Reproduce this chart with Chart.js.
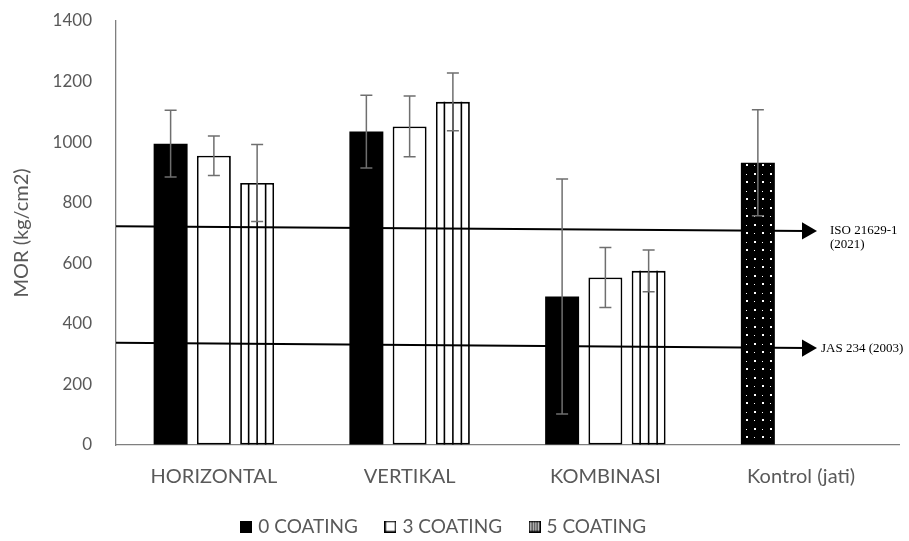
<!DOCTYPE html>
<html>
<head>
<meta charset="utf-8">
<title>MOR</title>
<script src="https://cdn.jsdelivr.net/npm/chart.js@4.4.0/dist/chart.umd.min.js"></script>
<style>
    html, body { margin: 0; padding: 0; background: #fff; }
    #wrap { width: 909px; height: 541px; }
</style>
</head>
<body>
<div id="wrap"><canvas id="mor" width="909" height="541"></canvas></div>
<script>
// Kategori dan nilai MOR (kg/cm2)
const categories = ['HORIZONTAL', 'VERTIKAL', 'KOMBINASI', 'Kontrol (jati)'];
const seriesNames = ['0 COATING', '3 COATING', '5 COATING'];

const coating0 = [995, 1035, 490, 932];
const coating3 = [955, 1052, 553, null];
const coating5 = [865, 1133, 575, null];

// Simpangan (error bar +/-)
const err0 = [110, 120, 388, 175];
const err3 = [65, 100, 99, null];
const err5 = [127, 95, 69, null];

const yTicks = [0, 200, 400, 600, 800, 1000, 1200, 1400];

// Garis standar: nilai di awal dan di ujung panah
const isoLimit = [722, 707];
const jasLimit = [338, 320];
const isoLabel = ['ISO 21629-1', '(2021)'];
const jasLabel = ['JAS 234 (2003)'];

const TEXT = '#595959';
const ERR = '#6f6f6f';
const FONT = 'Lato, "Open Sans", sans-serif';

const canvas = document.getElementById('mor');
const ctx = canvas.getContext('2d');

// Pola titik putih untuk batang kontrol
function makeDotPattern() {
    const c = document.createElement('canvas');
    c.width = 16;
    c.height = 17;
    const g = c.getContext('2d');
    g.fillStyle = '#000';
    g.fillRect(0, 0, 16, 17);
    g.fillStyle = '#fff';
    g.fillRect(2, 3, 2, 2);
    g.fillRect(10, 4, 1, 1);
    g.fillRect(10, 11, 2, 2);
    g.fillRect(2, 12, 1, 1);
    return ctx.createPattern(c, 'repeat');
}

// Kotak kecil untuk legenda
function makeSwatch(kind) {
    const c = document.createElement('canvas');
    c.width = 12;
    c.height = 12;
    const g = c.getContext('2d');
    if (kind === 0) {
        g.fillStyle = '#000';
        g.fillRect(0, 0, 12, 12);
    } else {
        g.fillStyle = '#fff';
        g.fillRect(0, 0, 12, 12);
        g.strokeStyle = '#000';
        g.lineWidth = 1.5;
        g.strokeRect(0.75, 0.75, 10.5, 10.5);
        if (kind === 2) {
            g.lineWidth = 1.2;
            [3.5, 6, 8.5].forEach(x => {
                g.beginPath();
                g.moveTo(x, 0);
                g.lineTo(x, 12);
                g.stroke();
            });
        }
    }
    return c;
}
const swatches = [makeSwatch(0), makeSwatch(1), makeSwatch(2)];

const errors = [err0, err3, err5];

// Garis vertikal di dalam batang 5 COATING
const stripePlugin = {
    id: 'stripes',
    afterDatasetDraw(chart, args) {
        if (args.index !== 2) return;
        const c = chart.ctx;
        c.save();
        c.strokeStyle = '#000';
        c.lineWidth = 1.6;
        args.meta.data.forEach(bar => {
            if (bar.skip) return;
            const p = bar.getProps(['x', 'y', 'base', 'width'], true);
            const left = p.x - p.width / 2;
            for (let k = 1; k < 4; k++) {
                const x = left + p.width * k / 4;
                c.beginPath();
                c.moveTo(x, p.y);
                c.lineTo(x, p.base);
                c.stroke();
            }
        });
        c.restore();
    }
};

// Error bar dan label garis standar
const overlayPlugin = {
    id: 'overlay',
    afterLayout(chart) {
        // legenda di gambar asli sedikit bergeser ke kiri
        chart.legend.left -= 5;
        chart.legend.right -= 5;
    },
    afterDatasetsDraw(chart) {
        const c = chart.ctx;
        const yScale = chart.scales.y;
        c.save();
        c.strokeStyle = ERR;
        c.lineWidth = 1.5;
        for (let i = 0; i < 3; i++) {
            const meta = chart.getDatasetMeta(i);
            meta.data.forEach((bar, j) => {
                const v = chart.data.datasets[i].data[j];
                const e = errors[i][j];
                if (v == null || e == null) return;
                const x = bar.x;
                const yTop = yScale.getPixelForValue(v + e);
                const yBot = yScale.getPixelForValue(v - e);
                c.beginPath();
                c.moveTo(x, yTop);
                c.lineTo(x, yBot);
                c.moveTo(x - 6, yTop);
                c.lineTo(x + 6, yTop);
                c.moveTo(x - 6, yBot);
                c.lineTo(x + 6, yBot);
                c.stroke();
            });
        }
        c.restore();

        c.save();
        c.fillStyle = '#000';
        c.font = '13px "Liberation Serif", "Times New Roman", serif';
        c.textAlign = 'left';
        c.textBaseline = 'middle';
        chart.data.datasets.forEach((ds, i) => {
            if (!ds.refLabel) return;
            const pts = chart.getDatasetMeta(i).data;
            const end = pts[pts.length - 1];
            ds.refLabel.forEach((line, k) => {
                c.fillText(line, end.x + ds.labelGap, end.y + k * 14);
            });
        });
        c.restore();
    }
};

// Garis standar pada sumbu kategori (indeks pecahan, -0.5 = tepi kiri plot)
const refLineX = [-0.5, 3.03];
function refLine(values, label, gap) {
    return {
        type: 'line',
        label: label[0],
        parsing: false,
        data: [{ x: refLineX[0], y: values[0] }, { x: refLineX[1], y: values[1] }],
        xAxisID: 'x',
        yAxisID: 'y',
        borderColor: '#000',
        borderWidth: 2,
        pointRadius: [0, 10],
        pointStyle: 'triangle',
        rotation: 90,
        pointBackgroundColor: '#000',
        pointBorderColor: '#000',
        pointBorderWidth: 0,
        fill: false,
        order: 0,
        refLabel: label,
        labelGap: gap
    };
}

const barCommon = {
    categoryPercentage: 0.663,
    barPercentage: 0.785,
    borderSkipped: false,
    order: 1,
    xAxisID: 'x',
    yAxisID: 'y'
};

new Chart(ctx, {
    type: 'bar',
    data: {
        labels: categories,
        datasets: [
            Object.assign({
                label: seriesNames[0],
                data: coating0,
                backgroundColor: ['#000', '#000', '#000', makeDotPattern()],
                borderColor: '#000',
                borderWidth: 0
            }, barCommon),
            Object.assign({
                label: seriesNames[1],
                data: coating3,
                backgroundColor: '#fff',
                borderColor: '#000',
                borderWidth: 1.8
            }, barCommon),
            Object.assign({
                label: seriesNames[2],
                data: coating5,
                backgroundColor: '#fff',
                borderColor: '#000',
                borderWidth: 1.8
            }, barCommon),
            refLine(isoLimit, isoLabel, 23),
            refLine(jasLimit, jasLabel, 14)
        ]
    },
    options: {
        responsive: false,
        animation: false,
        devicePixelRatio: 1,
        layout: {
            padding: { top: 21, right: 9, bottom: -5, left: 0 }
        },
        plugins: {
            tooltip: { enabled: false },
            legend: {
                position: 'bottom',
                labels: {
                    color: TEXT,
                    font: { family: FONT, size: 19 },
                    usePointStyle: true,
                    boxWidth: 5,
                    padding: 30,
                    generateLabels(chart) {
                        const items = Chart.defaults.plugins.legend.labels.generateLabels(chart);
                        return items.filter(it => it.datasetIndex < 3).map(it => {
                            it.pointStyle = swatches[it.datasetIndex];
                            return it;
                        });
                    }
                }
            }
        },
        scales: {
            x: {
                type: 'category',
                grid: { display: false },
                border: { display: true, color: '#7f7f7f', width: 1.3 },
                ticks: {
                    color: TEXT,
                    font: { family: FONT, size: 20 },
                    padding: 12,
                    maxRotation: 0
                },
                afterFit(scale) {
                    scale.height = 42;
                }
            },
            y: {
                min: 0,
                max: 1400,
                afterBuildTicks(scale) {
                    scale.ticks = yTicks.map(v => ({ value: v }));
                },
                afterFit(scale) {
                    scale.width = 116;
                },
                // garis tick transparan hanya untuk memberi jarak label
                grid: {
                    display: true,
                    drawOnChartArea: false,
                    drawTicks: true,
                    tickLength: 20,
                    color: 'rgba(0,0,0,0)'
                },
                border: { display: true, color: '#7f7f7f', width: 1.3 },
                ticks: {
                    color: TEXT,
                    font: { family: FONT, size: 17 },
                    padding: 4,
                    callback: v => String(v)
                },
                title: {
                    display: true,
                    text: 'MOR (kg/cm2)',
                    color: TEXT,
                    font: { family: FONT, size: 20 },
                    padding: { top: 10, bottom: 0 }
                }
            }
        }
    },
    plugins: [stripePlugin, overlayPlugin]
});
</script>
</body>
</html>
